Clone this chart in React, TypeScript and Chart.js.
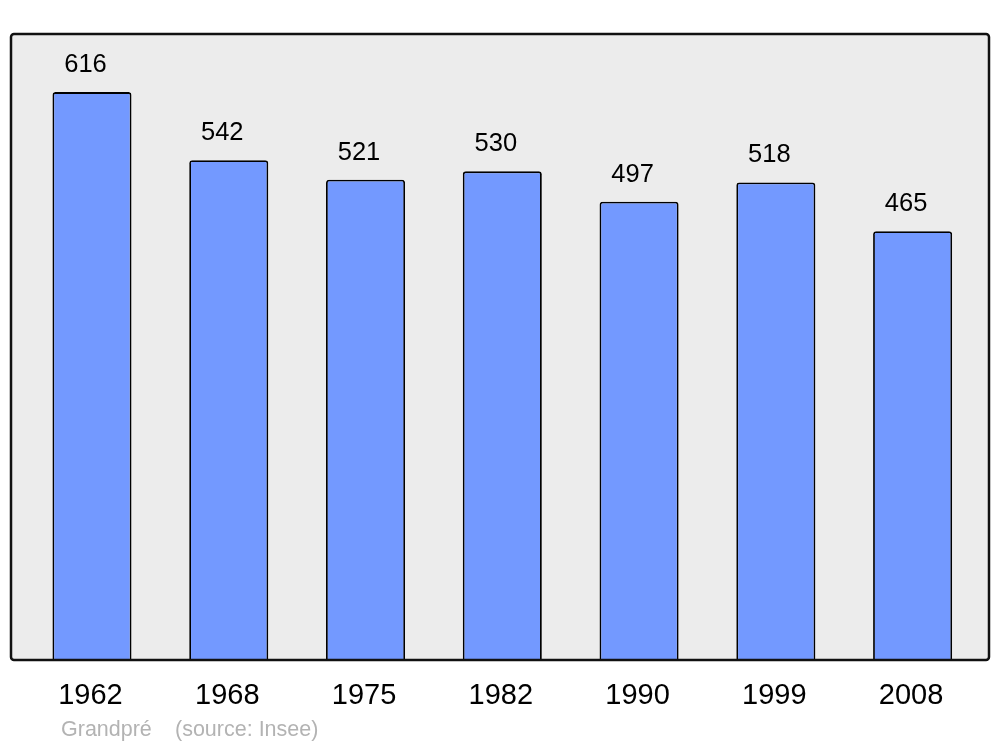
import React, { useEffect, useRef } from "react";
import { Chart, registerables } from "chart.js";

Chart.register(...registerables);

const years = ["1962", "1968", "1975", "1982", "1990", "1999", "2008"];
const population = [616, 542, 521, 530, 497, 518, 465];
const sourceName = "Grandpré";
const sourceNote = "(source: Insee)";

const FONT = "'Liberation Sans', Arial, sans-serif";

const framePlugin = {
  id: "frame",
  beforeDatasetsDraw(chart: any) {
    const { ctx, chartArea } = chart;
    const l = chartArea.left - 12.6;
    const r = chartArea.right + 8;
    const t = chartArea.top;
    const b = chartArea.bottom;
    ctx.save();
    ctx.beginPath();
    (ctx as any).roundRect(l, t, r - l, b - t, 3);
    ctx.fillStyle = "#ececec";
    ctx.fill();
    ctx.restore();
  },
  afterDatasetsDraw(chart: any) {
    const { ctx, chartArea, scales } = chart;
    const l = chartArea.left - 12.6;
    const r = chartArea.right + 8;
    const t = chartArea.top;
    const b = chartArea.bottom;
    ctx.save();
    ctx.beginPath();
    (ctx as any).roundRect(l, t, r - l, b - t, 3);
    ctx.lineWidth = 2.5;
    ctx.strokeStyle = "#111111";
    ctx.stroke();

    const meta = chart.getDatasetMeta(0);
    ctx.fillStyle = "#000000";
    ctx.textAlign = "center";
    ctx.textBaseline = "middle";
    ctx.font = `25.5px ${FONT}`;
    meta.data.forEach((bar: any, i: number) => {
      ctx.fillText(String(population[i]), bar.x - 6.5, bar.y - 27);
    });
    ctx.font = `29px ${FONT}`;
    years.forEach((y, i) => {
      const x = scales.x.getPixelForTick(i);
      ctx.fillText(y, x - 1.5, 696);
    });
    ctx.fillStyle = "#b3b3b3";
    ctx.textAlign = "left";
    ctx.font = `21.5px ${FONT}`;
    ctx.fillText(sourceName, 61, 730);
    ctx.fillText(sourceNote, 175, 730);
    ctx.restore();
  },
};

export default function App() {
  const ref = useRef<HTMLCanvasElement>(null);
  useEffect(() => {
    if (!ref.current) return;
    const chart = new Chart(ref.current, {
      type: "bar",
      data: {
        labels: years,
        datasets: [
          {
            data: population,
            backgroundColor: "#7399ff",
            borderColor: "#000000",
            borderWidth: 1.8,
            borderSkipped: "bottom",
            borderRadius: { topLeft: 3, topRight: 3, bottomLeft: 0, bottomRight: 0 },
            barPercentage: 0.578,
            categoryPercentage: 1,
          },
        ],
      },
      options: {
        animation: false,
        responsive: false,
        maintainAspectRatio: false,
        layout: { padding: { left: 23.6, right: 19, top: 34, bottom: 87 } },
        plugins: { legend: { display: false }, tooltip: { enabled: false } },
        scales: {
          x: { display: false },
          y: { display: false, min: 0, max: 679 },
        },
      },
      plugins: [framePlugin],
    });
    return () => chart.destroy();
  }, []);
  return (
    <div style={{ position: "absolute", left: 0, top: 0, width: 1000, height: 747, background: "#ffffff" }}>
      <canvas ref={ref} width={1000} height={747} style={{ width: 1000, height: 747 }} />
    </div>
  );
}
